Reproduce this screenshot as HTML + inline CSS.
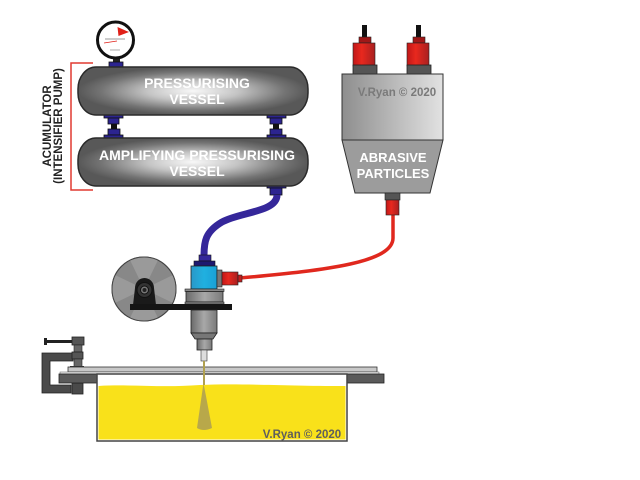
<!DOCTYPE html>
<html><head><meta charset="utf-8"><style>
html,body{margin:0;padding:0;background:#fff;width:640px;height:480px;overflow:hidden}
svg{display:block}
text{font-family:"Liberation Sans",Arial,sans-serif;font-weight:bold}
</style></head><body>
<svg width="640" height="480" viewBox="0 0 640 480" xmlns="http://www.w3.org/2000/svg">
<defs>
<radialGradient id="vg" cx="0.5" cy="0.5" r="0.5">
<stop offset="0" stop-color="#f8f8f8"/>
<stop offset="0.4" stop-color="#c4c4c4"/>
<stop offset="0.8" stop-color="#747474"/>
<stop offset="1" stop-color="#585858"/>
</radialGradient>
<linearGradient id="hb" x1="0" y1="0" x2="1" y2="0">
<stop offset="0" stop-color="#8e8e8e"/><stop offset="1" stop-color="#e2e2e2"/>
</linearGradient>
<linearGradient id="red" x1="0" y1="0" x2="1" y2="0">
<stop offset="0" stop-color="#c01818"/><stop offset="0.4" stop-color="#e8281e"/><stop offset="1" stop-color="#a82020"/>
</linearGradient>
<linearGradient id="blue" x1="0" y1="0" x2="1" y2="0">
<stop offset="0" stop-color="#2a98c8"/><stop offset="0.5" stop-color="#20b0e0"/><stop offset="1" stop-color="#1aa0d6"/>
</linearGradient>
<linearGradient id="gb" x1="0" y1="0" x2="1" y2="0">
<stop offset="0" stop-color="#6a6a6a"/><stop offset="0.5" stop-color="#a8a8a8"/><stop offset="1" stop-color="#7a7a7a"/>
</linearGradient>
</defs>

<!-- bracket -->
<path d="M93,63 H71 V190 H93" fill="none" stroke="#e03a30" stroke-width="1.5"/>
<text transform="translate(51,126) rotate(-90)" text-anchor="middle" font-size="11.5" fill="#222">ACUMULATOR</text>
<text transform="translate(62,126) rotate(-90)" text-anchor="middle" font-size="11.5" fill="#222">(INTENSIFIER PUMP)</text>

<!-- gauge -->
<rect x="113" y="56" width="7" height="8" fill="#222"/>
<rect x="109" y="62" width="14" height="6" fill="#2c2490" stroke="#111" stroke-width="0.8"/>
<circle cx="115.5" cy="40" r="18" fill="#fff" stroke="#111" stroke-width="3"/>
<path d="M117.5,27 L129,32 L118.5,36 Z" fill="#e02018"/>
<line x1="104" y1="43" x2="117" y2="41" stroke="#e02018" stroke-width="0.8"/>
<line x1="105" y1="39" x2="125" y2="39" stroke="#999" stroke-width="1"/>
<line x1="110" y1="50" x2="120" y2="50" stroke="#aaa" stroke-width="1"/>

<!-- connectors between vessels -->
<g fill="#2c2490" stroke="#111" stroke-width="0.8">
<rect x="104" y="115" width="19" height="3"/><rect x="108" y="118" width="11" height="6"/>
<rect x="108" y="129" width="12" height="6"/><rect x="104" y="135" width="19" height="3"/>
<rect x="267" y="115" width="19" height="3"/><rect x="270" y="118" width="12" height="6"/>
<rect x="270" y="129" width="12" height="6"/><rect x="267" y="135" width="19" height="3"/>
<rect x="267" y="185" width="19" height="3"/><rect x="270" y="188" width="12" height="7"/>
</g>
<rect x="111" y="124" width="6" height="5" fill="#111"/>
<rect x="273" y="124" width="6" height="5" fill="#111"/>

<!-- vessels -->
<rect x="78" y="67" width="230" height="48" rx="18" ry="22" fill="url(#vg)" stroke="#2a2a2a" stroke-width="1.5"/>
<rect x="78" y="138" width="230" height="48" rx="18" ry="22" fill="url(#vg)" stroke="#2a2a2a" stroke-width="1.5"/>
<text x="197" y="88" text-anchor="middle" font-size="14" fill="#fff">PRESSURISING</text>
<text x="197" y="104" text-anchor="middle" font-size="14" fill="#fff">VESSEL</text>
<text x="197" y="160" text-anchor="middle" font-size="14" fill="#fff">AMPLIFYING PRESSURISING</text>
<text x="197" y="176" text-anchor="middle" font-size="14" fill="#fff">VESSEL</text>

<!-- blue hose -->
<path d="M277,195 C277,212 240,212 222,222 C205,232 204,242 204,256" fill="none" stroke="#35279a" stroke-width="7"/>

<!-- red hose -->
<path d="M393,214 V238 C393,262 330,270 240,278" fill="none" stroke="#e0281e" stroke-width="3.5"/>

<!-- hopper -->
<rect x="362" y="25" width="5" height="13" fill="#111"/>
<rect x="416" y="25" width="5" height="13" fill="#111"/>
<rect x="359" y="37" width="12" height="6" fill="#a01818" stroke="#222" stroke-width="0.6"/>
<rect x="413" y="37" width="12" height="6" fill="#a01818" stroke="#222" stroke-width="0.6"/>
<rect x="353" y="43" width="22" height="23" fill="url(#red)" stroke="#222" stroke-width="0.6"/>
<rect x="407" y="43" width="22" height="23" fill="url(#red)" stroke="#222" stroke-width="0.6"/>
<rect x="353" y="65" width="24" height="9" fill="#555" stroke="#222" stroke-width="0.8"/>
<rect x="407" y="65" width="24" height="9" fill="#555" stroke="#222" stroke-width="0.8"/>
<rect x="342" y="74" width="101" height="66" fill="url(#hb)" stroke="#333" stroke-width="1"/>
<path d="M342,140 H443 L430,193 H355 Z" fill="#9c9c9c" stroke="#333" stroke-width="1"/>
<text x="397" y="96" text-anchor="middle" font-size="11.5" fill="#7a7a7a">V.Ryan © 2020</text>
<text x="393" y="162" text-anchor="middle" font-size="13" fill="#fff">ABRASIVE</text>
<text x="393" y="178" text-anchor="middle" font-size="13" fill="#fff">PARTICLES</text>
<rect x="385" y="193" width="15" height="7" fill="#555" stroke="#222" stroke-width="0.6"/>
<rect x="386" y="200" width="13" height="15" fill="url(#red)" stroke="#222" stroke-width="0.6"/>

<!-- disc -->
<circle cx="144" cy="289" r="32" fill="#888" stroke="#444" stroke-width="1"/>
<path d="M144,289 L130,260 A32,32 0 0 1 158,260 Z" fill="#9a9a9a"/>
<path d="M144,289 L173,275 A32,32 0 0 1 173,303 Z" fill="#9a9a9a"/>
<path d="M144,289 L158,318 A32,32 0 0 1 130,318 Z" fill="#9a9a9a"/>
<path d="M144,289 L115,303 A32,32 0 0 1 115,275 Z" fill="#9a9a9a"/>
<circle cx="144" cy="289" r="32" fill="none" stroke="#444" stroke-width="1"/>
<path d="M133,305 L135,288 A9.5,10 0 0 1 154,288 L156,305 Z" fill="#1a1a1a"/>
<circle cx="144.5" cy="290" r="7.5" fill="#333" stroke="#111"/>
<circle cx="144.5" cy="290" r="4" fill="#777" stroke="#111"/>
<circle cx="144.5" cy="290" r="2" fill="#222"/>

<!-- cutting head -->
<rect x="199" y="255" width="12" height="6" fill="#35279a" stroke="#111" stroke-width="0.6"/>
<rect x="194" y="261" width="21" height="5" fill="#1e1870" stroke="#111" stroke-width="0.6"/>
<rect x="191" y="266" width="26" height="23" fill="url(#blue)" stroke="#222" stroke-width="0.8"/>
<rect x="217" y="270" width="5" height="17" fill="#777" stroke="#222" stroke-width="0.6"/>
<rect x="222" y="272" width="16" height="13" fill="url(#red)" stroke="#222" stroke-width="0.6"/>
<rect x="238" y="275" width="4" height="7" fill="#c02020" stroke="#222" stroke-width="0.6"/>
<rect x="185" y="289" width="39" height="2.5" fill="#888" stroke="#222" stroke-width="0.6"/>
<rect x="186" y="291.5" width="37" height="10.5" fill="url(#gb)" stroke="#222" stroke-width="0.8"/>
<rect x="185" y="302" width="39" height="2" fill="#888" stroke="#222" stroke-width="0.6"/>
<rect x="130" y="304" width="102" height="6" fill="#151515"/>
<rect x="191" y="310" width="26" height="23" fill="url(#gb)" stroke="#222" stroke-width="0.8"/>
<path d="M191,333 H217 L213,339 H195 Z" fill="#777" stroke="#222" stroke-width="0.8"/>
<rect x="197" y="339" width="15" height="11" fill="url(#gb)" stroke="#222" stroke-width="0.8"/>
<rect x="201" y="350" width="6" height="11" fill="#ddd" stroke="#333" stroke-width="0.6"/>

<!-- clamp -->
<path d="M42,353 H73 V361 H50 V385 H71 V393 H42 Z" fill="#4a4a4a" stroke="#222" stroke-width="0.8"/>
<rect x="45" y="340" width="28" height="3" fill="#222"/>
<rect x="44" y="338" width="3" height="7" fill="#222"/>
<rect x="72" y="337" width="12" height="8" fill="#555" stroke="#222" stroke-width="0.8"/>
<rect x="74" y="345" width="8" height="7" fill="#666" stroke="#222" stroke-width="0.6"/>
<rect x="72" y="352" width="11" height="7" fill="#555" stroke="#222" stroke-width="0.8"/>
<rect x="74" y="359" width="8" height="8" fill="#666" stroke="#222" stroke-width="0.6"/>
<rect x="70" y="366" width="14" height="2" fill="#333"/>
<rect x="72" y="383" width="11" height="11" fill="#4a4a4a" stroke="#222" stroke-width="0.8"/>

<!-- table / tank -->
<rect x="68" y="367" width="309" height="5" fill="#c8c8c8" stroke="#333" stroke-width="0.8"/>
<rect x="60" y="372" width="319" height="2" fill="#eee" stroke="#555" stroke-width="0.5"/>
<rect x="59" y="374" width="38" height="9" fill="#5a5a5a" stroke="#222" stroke-width="0.8"/>
<rect x="347" y="374" width="37" height="9" fill="#5a5a5a" stroke="#222" stroke-width="0.8"/>
<rect x="97" y="374" width="250" height="67" fill="#fff" stroke="#444" stroke-width="1.5"/>
<path d="M98.5,386 C130,384 160,388 200,385 C240,383 280,386 345.5,386 V439.5 H98.5 Z" fill="#f9e11a"/>
<path d="M203.5,383 L212,428 Q203.5,432 197,428 Z" fill="#b8a84a"/>
<line x1="204" y1="361" x2="204" y2="385" stroke="#b0a050" stroke-width="2"/>
<text x="302" y="438" text-anchor="middle" font-size="11.5" fill="#5e5e5e">V.Ryan © 2020</text>
</svg>
</body></html>
